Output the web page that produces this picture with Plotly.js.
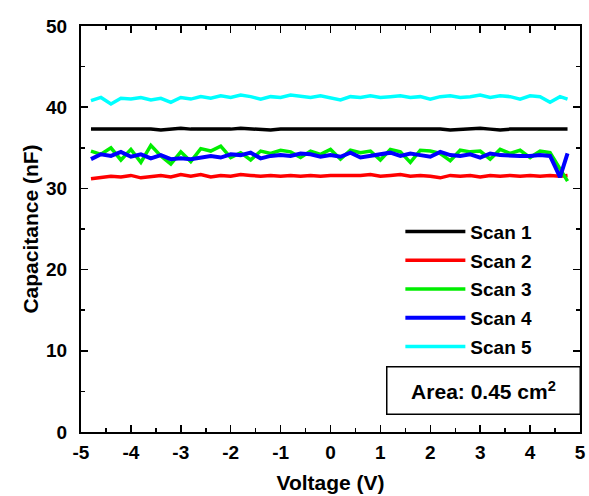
<!DOCTYPE html>
<html>
<head>
<meta charset="utf-8">
<script src="https://cdn.plot.ly/plotly-3.0.1.min.js"></script>
<style>html,body{margin:0;padding:0;background:#fff;}#chart{width:589px;height:496px;}</style>
</head>
<body>
<div id="chart"></div>
<script>
var voltage = [-4.8,-4.6,-4.4,-4.2,-4.0,-3.8,-3.6,-3.4,-3.2,-3.0,
  -2.8,-2.6,-2.4,-2.2,-2.0,-1.8,-1.6,-1.4,-1.2,-1.0,
  -0.8,-0.6,-0.4,-0.2,0.0,0.2,0.4,0.6,0.8,1.0,
  1.2,1.4,1.6,1.8,2.0,2.2,2.4,2.6,2.8,3.0,
  3.2,3.4,3.6,3.8,4.0,4.2,4.4,4.6,4.75];
var scan1 = [37.3,37.3,37.4,37.3,37.3,37.4,37.3,37.2,37.3,37.4,
  37.3,37.3,37.2,37.3,37.3,37.4,37.3,37.3,37.2,37.3,
  37.3,37.3,37.4,37.3,37.3,37.3,37.3,37.3,37.4,37.3,
  37.3,37.3,37.4,37.3,37.3,37.3,37.2,37.3,37.3,37.4,
  37.3,37.2,37.3,37.3,37.3,37.4,37.3,37.3,37.3];
var scan2 = [31.2,31.4,31.5,31.4,31.6,31.3,31.5,31.6,31.4,31.7,
  31.5,31.7,31.4,31.6,31.5,31.7,31.6,31.5,31.6,31.5,
  31.6,31.5,31.6,31.5,31.6,31.6,31.5,31.6,31.7,31.5,
  31.6,31.7,31.5,31.6,31.5,31.3,31.6,31.5,31.6,31.4,
  31.6,31.5,31.6,31.5,31.6,31.5,31.6,31.5,31.6];
var scan3 = [34.6,34.2,35.0,33.5,34.8,33.2,35.3,34.0,33.0,34.5,
  33.3,34.9,34.6,35.2,33.8,34.4,33.5,34.6,34.3,34.7,
  34.5,33.8,34.6,34.2,34.8,33.6,34.7,34.4,34.6,33.5,
  34.8,34.5,33.2,34.7,34.6,34.3,33.4,34.7,34.5,34.6,
  33.6,34.8,34.3,34.7,33.8,34.6,34.4,32.3,30.9];
var scan4 = [33.6,34.2,34.0,34.5,33.9,34.2,33.7,34.1,33.6,33.7,
  33.6,33.8,34.0,33.8,34.2,34.1,34.4,33.7,34.0,34.1,
  34.0,34.3,34.2,33.9,34.1,33.9,34.4,33.8,34.0,34.2,
  34.4,34.0,34.3,34.1,33.9,34.5,34.1,34.0,34.2,33.8,
  34.3,34.1,34.0,34.0,34.0,34.1,34.0,31.4,34.3];
var scan5 = [40.8,41.2,40.4,41.1,41.0,41.2,40.9,41.1,40.6,41.2,
  41.0,41.3,41.1,41.4,41.2,41.5,41.3,41.0,41.3,41.2,
  41.5,41.3,41.2,41.4,41.1,40.9,41.3,41.2,41.4,41.2,
  41.3,41.4,41.2,41.3,41.0,41.3,41.4,41.2,41.3,41.5,
  41.2,41.4,41.3,41.0,41.4,41.3,40.6,41.3,41.0];
var names = ["Scan 1","Scan 2","Scan 3","Scan 4","Scan 5"];
var colors = ["#000000","#ff0000","#00ee00","#0000ff","#00ffff"];
var series = [scan1, scan2, scan3, scan4, scan5];
var xTickVals = [-5,-4,-3,-2,-1,0,1,2,3,4,5];
var xTickText = ["-5","-4","-3","-2","-1","0","1","2","3","4","5"];
var yTickVals = [0,10,20,30,40,50];
var yTickText = ["0","10","20","30","40","50"];

var FONT = "Liberation Sans, Arial, sans-serif";
var traces = series.map(function(s, i){
  return {x: voltage, y: s, type: "scatter", mode: "lines", name: names[i], legendgroup: "g" + i,
    line: {color: colors[i], width: i === 3 ? 4 : 3.5}};
});

var axisCommon = {
  showgrid: false, zeroline: false, showline: true, linecolor: "#000", linewidth: 2,
  mirror: "ticks", ticks: "inside", ticklen: 7, tickwidth: 1.5, tickcolor: "#000",
  tickmode: "array",
  tickfont: {family: FONT, size: 19, color: "#000", weight: "bold"},
  minor: {ticks: "inside", ticklen: 4, tickwidth: 1.5, tickcolor: "#000"}
};

var layout = {
  width: 589, height: 496,
  margin: {l: 81, r: 9, t: 26, b: 64},
  paper_bgcolor: "#fff", plot_bgcolor: "#fff",
  showlegend: true,
  legend: {x: 0.64, y: 0.54, xanchor: "left", yanchor: "top", bgcolor: "rgba(0,0,0,0)",
    traceorder: "grouped", tracegroupgap: 1,
    font: {family: FONT, size: 19, color: "#000", weight: "bold"}, itemwidth: 60},
  xaxis: Object.assign({}, axisCommon, {
    range: [-5, 5], tickvals: xTickVals, ticktext: xTickText, ticklabelstandoff: 2,
    minor: Object.assign({}, axisCommon.minor, {dtick: 0.5, tick0: -5}),
    title: {text: "Voltage (V)", font: {family: FONT, size: 21, color: "#000", weight: "bold"}, standoff: 14}
  }),
  yaxis: Object.assign({}, axisCommon, {
    range: [0, 50], tickvals: yTickVals, ticktext: yTickText, ticklabelstandoff: 8,
    minor: Object.assign({}, axisCommon.minor, {dtick: 5, tick0: 0}),
    title: {text: "Capacitance (nF)", font: {family: FONT, size: 21, color: "#000", weight: "bold"}, standoff: 2}
  }),
  annotations: [{
    xref: "paper", yref: "paper", x: 0.807, y: 0.101, xanchor: "center", yanchor: "middle",
    text: "Area: 0.45 cm<sup>2</sup>", showarrow: false,
    font: {family: FONT, size: 21, color: "#000", weight: "bold"},
    bordercolor: "#000", borderwidth: 1.5, borderpad: 3, width: 186, height: 40, bgcolor: "#fff"
  }]
};

Plotly.newPlot("chart", traces, layout, {displayModeBar: false, staticPlot: true});
</script>
</body>
</html>
